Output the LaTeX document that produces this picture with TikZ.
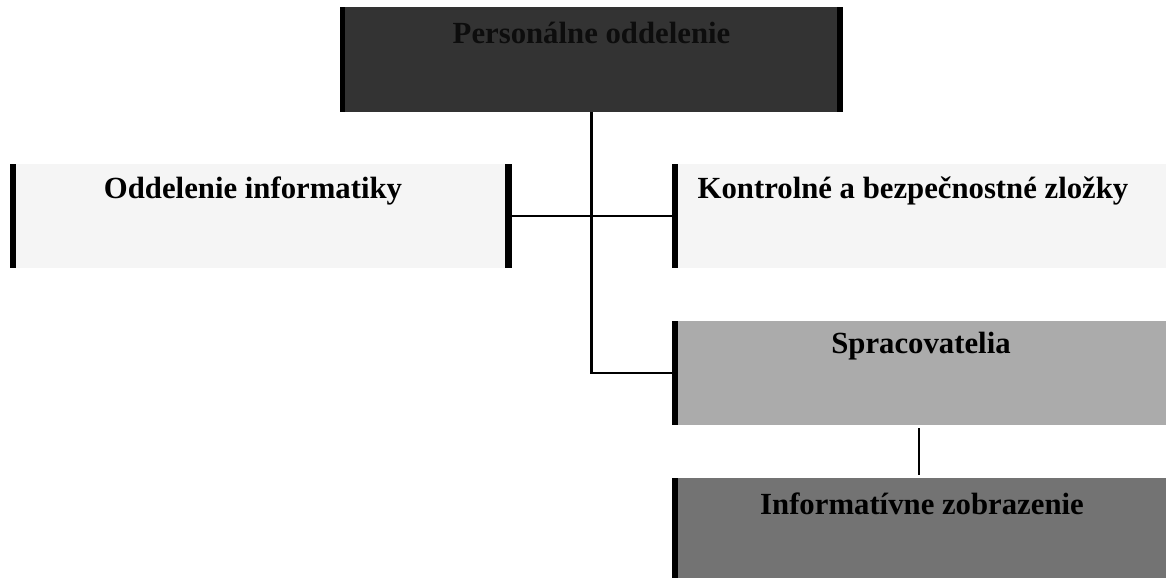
\documentclass[tikz,border=0pt]{standalone}
\usepackage{fontspec}
\setmainfont{Liberation Serif}
\usetikzlibrary{positioning}
\begin{document}
\begin{tikzpicture}[x=0.02cm, y=-0.02cm,
  every node/.style={font=\fontsize{17.5}{20}\selectfont\bfseries},
  unit/.style={draw=none,inner sep=0pt,minimum width=9.88cm,minimum height=2.08cm},
  lbl/.style={inner sep=0pt,text=black},
  bar/.style={fill=black},
  link/.style={draw=black,line width=1.2pt}]
\useasboundingbox (0,0) rectangle (1166,578);
\node[unit,fill=black!80,minimum width=10.06cm,minimum height=2.1cm] (pers) at (591.5,59.5) {};
\node[unit,fill=black!4,minimum width=10.04cm] (info) at (261,216) {};
\node[unit,fill=black!4] (kontr) at (919,216) {};
\node[unit,fill=black!33] (sprac) at (919,373) {};
\node[unit,fill=black!55,minimum height=2cm] (inform) at (919,528) {};
\fill[bar] (pers.north west) rectangle ([xshift=0.1cm]pers.south west);
\fill[bar] (pers.north east) rectangle ([xshift=-0.12cm]pers.south east);
\fill[bar] (info.north west) rectangle ([xshift=0.13cm]info.south west);
\fill[bar] (info.north east) rectangle ([xshift=-0.14cm]info.south east);
\fill[bar] (kontr.north west) rectangle ([xshift=0.13cm]kontr.south west);
\fill[bar] (sprac.north west) rectangle ([xshift=0.13cm]sprac.south west);
\fill[bar] (inform.north west) rectangle ([xshift=0.13cm]inform.south west);
\path (pers.north) ++(0,26) node[lbl,text=black!95] {Personálne oddelenie};
\path (info.north) ++(-8,27) node[lbl] {Oddelenie informatiky};
\path (kontr.north) ++(-6,27) node[lbl] {Kontrolné a bezpečnostné zložky};
\path (sprac.north) ++(2,25) node[lbl] {Spracovatelia};
\path (inform.north) ++(3,26) node[lbl] {Informatívne zobrazenie};
\draw[link] (pers.south) |- (sprac.west);
\draw[link] (info.east) -- (kontr.west);
\draw[link] ([yshift=-0.06cm]sprac.south) -- ([yshift=0.06cm]inform.north);
\end{tikzpicture}
\end{document}
